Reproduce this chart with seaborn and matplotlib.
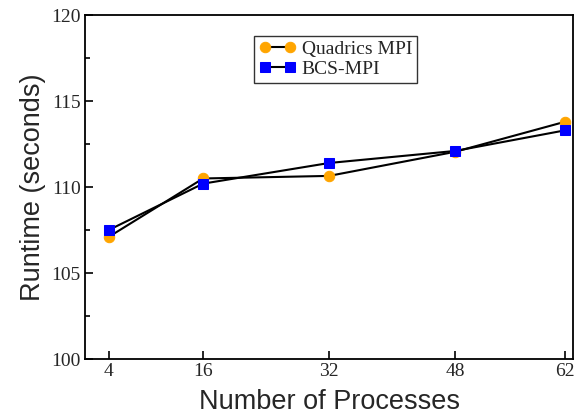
import pandas as pd
import matplotlib
matplotlib.use('Agg')
import matplotlib.pyplot as plt
import seaborn as sns
from matplotlib.ticker import MultipleLocator

# Data
processes = [4, 16, 32, 48, 62]
quadrics_mpi = [107.1, 110.5, 110.65, 112.05, 113.8]
bcs_mpi = [107.5, 110.2, 111.4, 112.1, 113.3]

df = pd.DataFrame({'Processes': processes,
                   'Quadrics MPI': quadrics_mpi,
                   'BCS-MPI': bcs_mpi})

sns.set_style('white')
plt.rcParams['font.family'] = ['Liberation Serif', 'DejaVu Serif']

fig = plt.figure(figsize=(5.8, 4.19), dpi=100)
ax = fig.add_axes([0.1466, 0.143, 0.8414, 0.821])

# Quadrics MPI: orange circles, black line
sns.lineplot(data=df, x='Processes', y='Quadrics MPI', ax=ax, color='black',
             linewidth=1.5, marker='o', markersize=7.5,
             markerfacecolor='#FFA500', markeredgecolor='#FFA500',
             label='Quadrics MPI')

# BCS-MPI: blue squares, black line
sns.lineplot(data=df, x='Processes', y='BCS-MPI', ax=ax, color='black',
             linewidth=1.5, marker='s', markersize=6.5,
             markerfacecolor='#0000FF', markeredgecolor='#0000FF',
             label='BCS-MPI')

ax.set_xlim(1, 63)
ax.set_ylim(100, 120)
ax.set_xticks(processes)
ax.yaxis.set_major_locator(MultipleLocator(5))
ax.yaxis.set_minor_locator(MultipleLocator(2.5))

ax.tick_params(axis='both', which='major', direction='in', length=6,
               width=1.2, labelsize=14, color='black', pad=3,
               bottom=True, left=True)
ax.tick_params(axis='y', which='minor', direction='in', length=3.5,
               width=1.2, color='black', left=True)

for side in ax.spines.values():
    side.set_color('black')
    side.set_linewidth(1.3)

ax.set_xlabel('Number of Processes', family='Liberation Sans',
              fontsize=19.5, labelpad=6)
ax.set_ylabel('Runtime (seconds)', family='Liberation Sans',
              fontsize=19.5, labelpad=4)

leg = ax.legend(loc='upper left', bbox_to_anchor=(0.346, 0.94),
                fontsize=14, frameon=True, fancybox=False, numpoints=2,
                handlelength=1.9, borderpad=0.25, labelspacing=0.1,
                handletextpad=0.3, borderaxespad=0)
leg.get_frame().set_edgecolor('black')
leg.get_frame().set_linewidth(1.0)

fig.savefig('out.png', dpi=100)
